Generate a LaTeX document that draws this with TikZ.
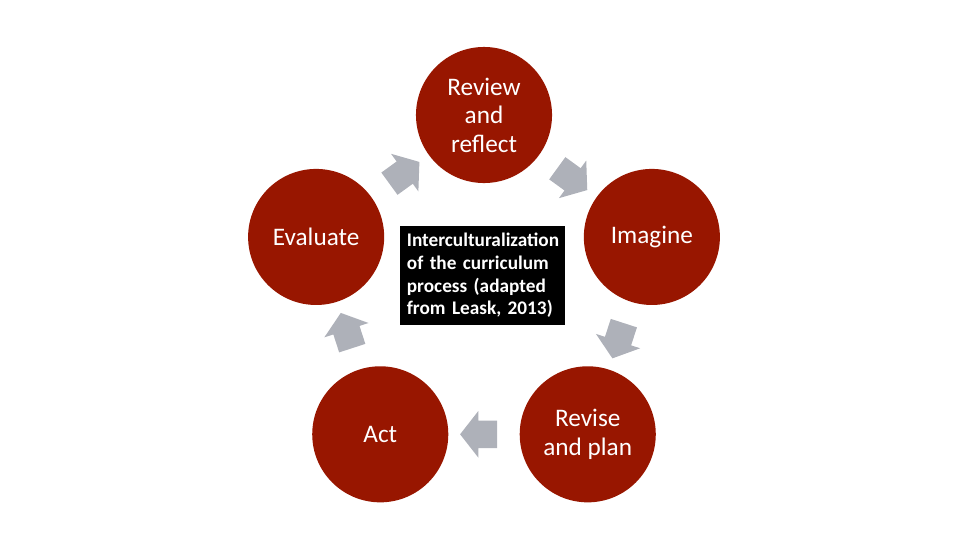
\documentclass[tikz,border=0pt]{standalone}
\usepackage{fontspec}
\setmainfont{Carlito}
\usetikzlibrary{shapes.arrows}
\definecolor{cStage}{HTML}{981600}
\definecolor{cFlow}{HTML}{AEB1B9}

\begin{document}
\begin{tikzpicture}[
  stage/.style={circle,fill=cStage,text=white,minimum size=3.6cm,inner sep=0pt,
    align=center,font=\fontsize{19}{21.5}\selectfont},
  flow/.style={single arrow,fill=cFlow,draw=none,minimum height=0.98cm,
    inner xsep=0pt,inner ysep=0.357cm,single arrow head extend=0.251cm,
    single arrow tip angle=104,midway,sloped,allow upside down},
  caption/.style={fill=black,text=white,font=\fontsize{14.5}{17}\selectfont\bfseries,
    text width=4.0cm,align=left,inner xsep=0.185cm,minimum height=2.62cm}]

\useasboundingbox (-12.806,-6.575) rectangle (12.594,7.713);

%============================ the five stages ============================
\foreach \a/\n/\txt in {90/rev/{Review\\and\\reflect},18/ima/Imagine,
    -54/rvp/{Revise\\and plan},-126/act/Act,162/eva/Evaluate}
  \node[stage] (\n) at (\a:4.67) {\txt};

% block arrows, clockwise
\foreach \p/\q in {rev/ima,ima/rvp,rvp/act,act/eva,eva/rev}
  \path (\p) -- (\q) node[flow] (\p-\q) {};

% centre caption
\node[caption] (cap) at (-0.04,0.423)
  {Interculturalization\\of the curriculum\\process (adapted\\from Leask, 2013)};

\end{tikzpicture}
\end{document}
